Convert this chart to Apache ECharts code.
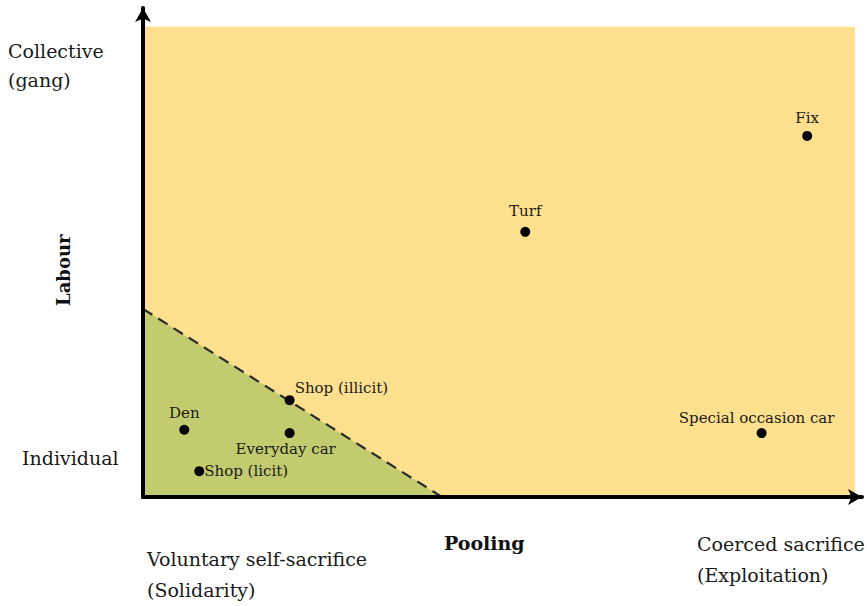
<!DOCTYPE html>
<html><head><meta charset="utf-8">
<script src="https://cdn.jsdelivr.net/npm/echarts@6/dist/echarts.min.js"></script>
<style>html,body{margin:0;padding:0;background:#fff}#c{width:867px;height:606px}</style>
</head><body><div id="c"></div>
<script>
// Data
const pointNames = ['Den', 'Shop (illicit)', 'Everyday car', 'Shop (licit)', 'Turf', 'Fix', 'Special occasion car'];
const pointX = [5.8, 20.6, 20.6, 7.9, 53.7, 93.3, 86.9];
const pointY = [14.3, 20.6, 13.6, 5.5, 56.4, 76.8, 13.6];
const boundaryX = [0, 42];
const boundaryY = [40, 0];
const regionMax = [100, 100];
const yLabels = ['Collective\n(gang)', 'Individual'];
const xLabels = ['Voluntary self-sacrifice\n(Solidarity)', 'Coerced sacrifice\n(Exploitation)'];
const axisNames = ['Pooling', 'Labour'];

// styles (label placement per point)
const labelPlacement = {
  'Den': {position: 'top', distance: 4},
  'Shop (illicit)': {position: 'right', offset: [0, -12], distance: 0},
  'Everyday car': {position: 'bottom', offset: [-4, 0], distance: 3},
  'Shop (licit)': {position: 'right', distance: 0},
  'Turf': {position: 'top', distance: 8},
  'Fix': {position: 'top', distance: 5},
  'Special occasion car': {position: 'top', offset: [-5, 0], distance: 3}
};

const FONT = 'DejaVu Serif';
const chart = echarts.init(document.getElementById('c'), null, {renderer: 'svg'});
const points = pointNames.map((n, i) => ({
  name: n, value: [pointX[i], pointY[i]],
  label: Object.assign({show: true, formatter: '{b}', color: '#1a1a1a', fontFamily: FONT, fontSize: 15}, labelPlacement[n])
}));

chart.setOption({
  animation: false,
  grid: {left: 143, right: 5, top: 8, bottom: 109},
  xAxis: {
    type: 'value', min: 0, max: 101, z: 10,
    splitLine: {show: false}, axisTick: {show: false}, axisLabel: {show: false},
    axisLine: {show: true, lineStyle: {color: '#000', width: 4}, symbol: ['none', 'arrow'], symbolSize: [12, 14]}
  },
  yAxis: {
    type: 'value', min: 0, max: 104, z: 10,
    splitLine: {show: false}, axisTick: {show: false}, axisLabel: {show: false},
    axisLine: {show: true, lineStyle: {color: '#000', width: 4}, symbol: ['none', 'arrow'], symbolSize: [12, 14]}
  },
  series: [
    {
      type: 'line', data: boundaryX.map((x, i) => [x, boundaryY[i]]),
      symbol: 'none', z: 3,
      lineStyle: {color: '#2b2b2b', width: 2.2, type: [11, 7]},
      areaStyle: {color: '#c3cb6f', opacity: 1},
      markArea: {
        silent: true,
        itemStyle: {color: '#ffe08e', opacity: 1},
        data: [[{coord: [0, 0]}, {coord: regionMax}]]
      }
    },
    {
      type: 'scatter', data: points, symbolSize: 10, z: 5,
      itemStyle: {color: '#000', opacity: 1}
    }
  ],
  graphic: [
    {type: 'text', left: 8, top: 36, style: {text: yLabels[0], font: '19px "' + FONT + '"', fill: '#1a1a1a', lineHeight: 29}},
    {type: 'text', left: 22, top: 448, style: {text: yLabels[1], font: '19px "' + FONT + '"', fill: '#1a1a1a'}},
    {type: 'text', left: 147, top: 543, style: {text: xLabels[0], font: '19px "' + FONT + '"', fill: '#1a1a1a', lineHeight: 31}},
    {type: 'text', left: 697, top: 528, style: {text: xLabels[1], font: '19px "' + FONT + '"', fill: '#1a1a1a', lineHeight: 31}},
    {type: 'text', left: 444, top: 533, style: {text: axisNames[0], font: 'bold 19px "' + FONT + '"', fill: '#111'}},
    {type: 'text', x: 54, y: 306, rotation: Math.PI / 2, style: {text: axisNames[1], font: 'bold 18px "' + FONT + '"', fill: '#111'}}
  ]
});
</script></body></html>
